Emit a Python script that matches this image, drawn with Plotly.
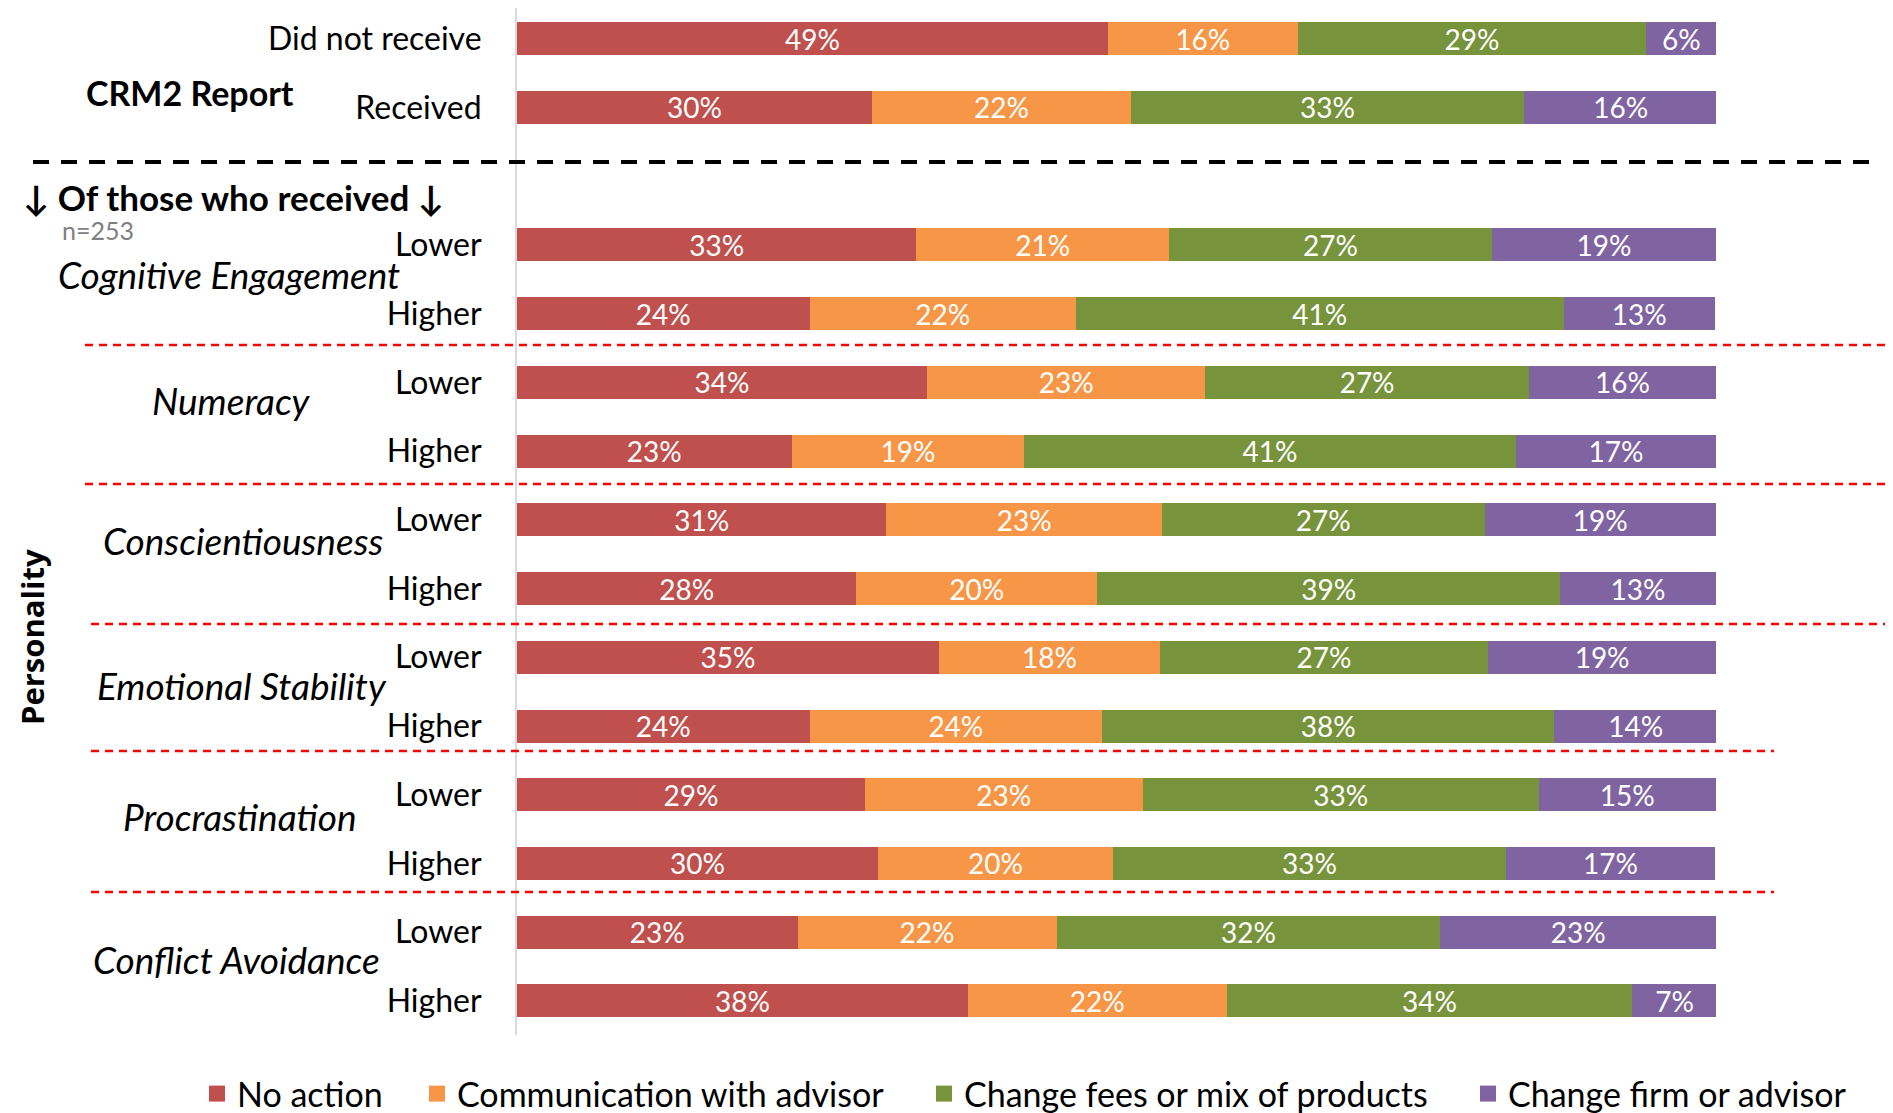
import plotly.graph_objects as go

# ---------------- data ----------------
top_labels = ["Did not receive", "Received"]
group_names = ["Cognitive Engagement", "Numeracy", "Conscientiousness",
               "Emotional Stability", "Procrastination", "Conflict Avoidance"]
levels = ["Lower", "Higher"]

series_names = ["No action", "Communication with advisor",
                "Change fees or mix of products", "Change firm or advisor"]
no_action = [49.3, 29.6, 33.3, 24.4, 34.2, 22.9, 30.8, 28.3, 35.2, 24.4, 29.0, 30.1, 23.4, 37.6]
communication = [15.8, 21.6, 21.1, 22.2, 23.2, 19.4, 23.0, 20.1, 18.4, 24.4, 23.2, 19.6, 21.6, 21.6]
change_fees = [29.1, 32.8, 26.9, 40.7, 27.0, 41.0, 26.9, 38.6, 27.4, 37.7, 33.0, 32.8, 32.0, 33.8]
change_firm = [5.8, 16.1, 18.7, 12.6, 15.6, 16.7, 19.3, 13.0, 19.0, 13.6, 14.8, 17.4, 23.0, 7.1]
colors = ["#C0504D", "#F79646", "#77933C", "#8064A2"]

# ---------------- layout helpers (page pixel coordinates) ----------------
OFF = 8                   # default body margin of the html page
W, H = 1893 - OFF, 1113 - OFF
L, R = 517, 1716          # plot area left/right, page px
PT, PB = 8, 1035          # plot area top/bottom, page px
SLOT0, SLOT = 38.7, 68.73 # centre of first row and row pitch, page px

def px_x(x):
    return (x - L) / (R - L)

def px_y(y):
    return (PB - y) / (PB - PT)

def slot(y):
    return (y - SLOT0) / SLOT

# row labels and y slots (a blank slot separates the two sections)
row_labels = list(top_labels)
for g in group_names:
    row_labels += levels
ypos = [0, 1] + [3 + i for i in range(len(group_names) * len(levels))]

FONT = "Lato, 'Open Sans', sans-serif"

fig = go.Figure()
for name, vals, col in zip(series_names,
                           [no_action, communication, change_fees, change_firm],
                           colors):
    fig.add_trace(go.Bar(
        x=vals, y=ypos, name=name, orientation="h",
        marker=dict(color=col, line=dict(width=0)),
        width=0.48, showlegend=False,
        texttemplate="%{x:.0f}%", textposition="inside",
        insidetextanchor="middle", textangle=0, constraintext="none",
        textfont=dict(color="white", size=28, family=FONT),
        hoverinfo="skip",
    ))
# legend entries (square swatches); widths give the spacing between entries
legend_widths = [175, 462, 499, 350]
for name, col, lw in zip(series_names, colors, legend_widths):
    fig.add_trace(go.Scatter(
        x=[None], y=[None], mode="markers", name=name,
        marker=dict(symbol="square", size=20, color=col),
        legendwidth=lw, showlegend=True, hoverinfo="skip"))

annotations = []
# group labels (italic); label centres in page px
grp_x = [229, 231, 243, 242, 240, 236]
grp_y = [274, 400, 540, 685, 816, 959]
for g, gx, gy in zip(group_names, grp_x, grp_y):
    annotations.append(dict(
        x=px_x(gx), xref="paper", y=slot(gy), yref="y",
        text=f"<i>{g}</i>", showarrow=False, xanchor="center", yanchor="middle",
        font=dict(size=37, family=FONT, color="black")))

annotations += [
    dict(x=px_x(190), xref="paper", y=px_y(93), yref="paper",
         text="<b>CRM2 Report</b>", showarrow=False, xanchor="center",
         yanchor="middle", font=dict(size=34, family=FONT, color="black")),
    dict(x=px_x(21), xref="paper", y=px_y(197), yref="paper",
         text="<b>↓ Of those who received ↓</b>", showarrow=False,
         xanchor="left", yanchor="middle",
         font=dict(size=35, family=FONT, color="black")),
    dict(x=px_x(60), xref="paper", y=px_y(230), yref="paper",
         text="n=253", showarrow=False, xanchor="left", yanchor="middle",
         font=dict(size=25, family=FONT, color="#808080")),
    dict(x=px_x(32), xref="paper", y=px_y(637), yref="paper",
         text="<b>Personality</b>", showarrow=False, textangle=-90,
         xanchor="center", yanchor="middle",
         font=dict(size=31, family="'Open Sans', sans-serif", color="black")),
]

shapes = [
    dict(type="line", xref="paper", yref="y", x0=px_x(33), x1=px_x(1869),
         y0=slot(162), y1=slot(162),
         line=dict(color="black", width=4, dash="16px,12px")),
]
red_lines = [(345, 85, 1893), (484, 85, 1893), (624, 91, 1893),
             (751, 91, 1774), (892, 91, 1774)]
for yv, xa, xb in red_lines:
    shapes.append(dict(type="line", xref="paper", yref="y",
                       x0=px_x(xa), x1=px_x(xb), y0=slot(yv), y1=slot(yv),
                       line=dict(color="#FF0000", width=2.5, dash="8px,6px")))

fig.update_layout(
    width=W, height=H,
    barmode="stack",
    plot_bgcolor="white", paper_bgcolor="white",
    margin=dict(l=L - OFF, r=W - (R - OFF), t=PT - OFF, b=H - (PB - OFF),
                pad=0, autoexpand=False),
    font=dict(family=FONT, color="black"),
    xaxis=dict(range=[0, 100], visible=False, fixedrange=True),
    yaxis=dict(range=[slot(PB), slot(PT)], tickmode="array", tickvals=ypos,
               ticktext=row_labels, showgrid=False, zeroline=False,
               showline=True, linecolor="#D9D9D9", linewidth=2,
               ticks="", ticklabelstandoff=27, automargin=False,
               tickfont=dict(size=32, family=FONT, color="black")),
    legend=dict(orientation="h", xref="paper", yref="paper",
                x=px_x(197), xanchor="left",
                y=px_y(1094), yanchor="middle",
                font=dict(size=34, family=FONT, color="black"),
                traceorder="normal", itemclick=False, itemdoubleclick=False),
    annotations=annotations,
    shapes=shapes,
    showlegend=True,
)

fig.write_html("out.html")
